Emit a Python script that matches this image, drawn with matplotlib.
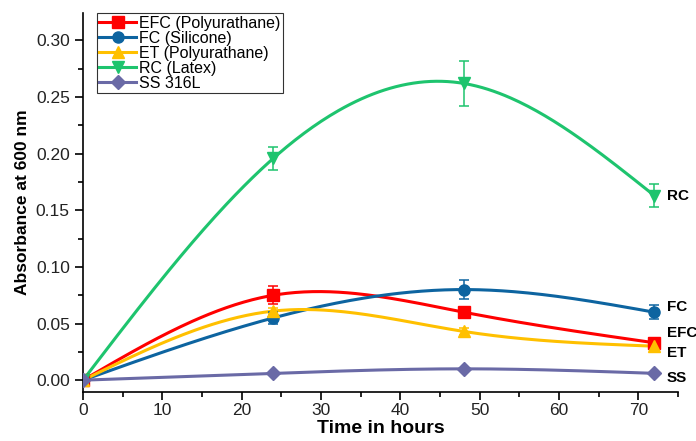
import matplotlib
matplotlib.use("Agg")
import matplotlib.pyplot as plt
import numpy as np
from matplotlib.ticker import MultipleLocator, FormatStrFormatter

plt.rcParams['font.family'] = ['Liberation Sans', 'DejaVu Sans']

hours = [0, 24, 48, 72]

efc = [0.0, 0.075, 0.060, 0.033]
efc_err = [0.0, 0.008, 0.005, 0.003]
fc = [0.0, 0.055, 0.080, 0.060]
fc_err = [0.0, 0.005, 0.008, 0.006]
et = [0.0, 0.061, 0.043, 0.030]
et_err = [0.0, 0.003, 0.003, 0.003]
rc = [0.0, 0.196, 0.262, 0.163]
rc_err = [0.0, 0.010, 0.020, 0.010]
ss = [0.0, 0.006, 0.010, 0.006]
ss_err = [0.0, 0.0, 0.0, 0.0]

names = ["EFC (Polyurathane)", "FC (Silicone)", "ET (Polyurathane)", "RC (Latex)", "SS 316L"]
short = ["EFC", "FC", "ET", "RC", "SS"]
label_y = [0.0415, 0.0644, 0.0238, 0.1624, 0.0018]


def spline(x, y, n=200):
    # natural cubic spline through the points
    x = np.asarray(x, float)
    y = np.asarray(y, float)
    k = len(x)
    h = np.diff(x)
    A = np.zeros((k, k))
    b = np.zeros(k)
    A[0, 0] = A[-1, -1] = 1
    for i in range(1, k - 1):
        A[i, i - 1] = h[i - 1]
        A[i, i] = 2 * (h[i - 1] + h[i])
        A[i, i + 1] = h[i]
        b[i] = 6 * ((y[i + 1] - y[i]) / h[i] - (y[i] - y[i - 1]) / h[i - 1])
    m = np.linalg.solve(A, b)
    xs = np.linspace(x[0], x[-1], n)
    ys = np.zeros_like(xs)
    for j, t in enumerate(xs):
        i = min(np.searchsorted(x, t, side='right') - 1, k - 2)
        a = x[i + 1] - t
        c = t - x[i]
        ys[j] = (m[i] * a**3 + m[i + 1] * c**3) / (6 * h[i]) \
            + (y[i] / h[i] - m[i] * h[i] / 6) * a \
            + (y[i + 1] / h[i] - m[i + 1] * h[i] / 6) * c
    return xs, ys


fig = plt.figure(figsize=(6.96, 4.41), dpi=100)
ax = fig.add_axes([0.1193, 0.111, 0.855, 0.859])

series = [(efc, efc_err, '#ff0000', 's', 8),
          (fc, fc_err, '#0d64a0', 'o', 8),
          (et, et_err, '#ffc000', '^', 8.5),
          (rc, rc_err, '#1ec46e', 'v', 8.5),
          (ss, ss_err, '#6a6aa6', 'D', 7)]

for (vals, err, col, mk, size), name in zip(series, names):
    xs, ys = spline(hours, vals)
    ax.plot(xs, ys, color=col, lw=2.2, zorder=2)
    ax.errorbar(hours, vals, yerr=err, fmt=mk, color=col, ms=size,
                capsize=3.8, elinewidth=1.1, capthick=1.1, zorder=3)
    ax.plot([], [], color=col, lw=2.2, marker=mk, ms=size, label=name)

for s, yv in zip(short, label_y):
    ax.text(73.6, yv, s, fontsize=11, fontweight='bold', va='center', ha='left',
            clip_on=False)

ax.set_xlim(0, 75)
ax.set_ylim(-0.0105, 0.324)
ax.xaxis.set_major_locator(MultipleLocator(10))
ax.xaxis.set_minor_locator(MultipleLocator(5))
ax.yaxis.set_major_locator(MultipleLocator(0.05))
ax.yaxis.set_minor_locator(MultipleLocator(0.025))
ax.yaxis.set_major_formatter(FormatStrFormatter('%.2f'))
ax.tick_params(which='both', direction='out', labelsize=12.5, width=1.2,
               labelcolor='#222222')
ax.tick_params(which='major', length=6)
ax.tick_params(which='minor', length=3.5)
ax.tick_params(axis='x', pad=2)
ax.spines['top'].set_visible(False)
ax.spines['right'].set_visible(False)
ax.spines['left'].set_linewidth(1.2)
ax.spines['bottom'].set_linewidth(1.2)

ax.set_xlabel('Time in hours', fontsize=14, fontweight='bold', labelpad=1)
ax.set_ylabel('Absorbance at 600 nm', fontsize=12.5, fontweight='bold', labelpad=4)

leg = ax.legend(loc='upper left', bbox_to_anchor=(0.0235, 1.0), fontsize=11.5,
                frameon=True, fancybox=False, edgecolor='black',
                handlelength=2.3, handletextpad=0.2, labelspacing=0.0,
                borderpad=0.15, borderaxespad=0.0)
leg.get_frame().set_linewidth(0.8)

fig.savefig('out.png', dpi=100)
